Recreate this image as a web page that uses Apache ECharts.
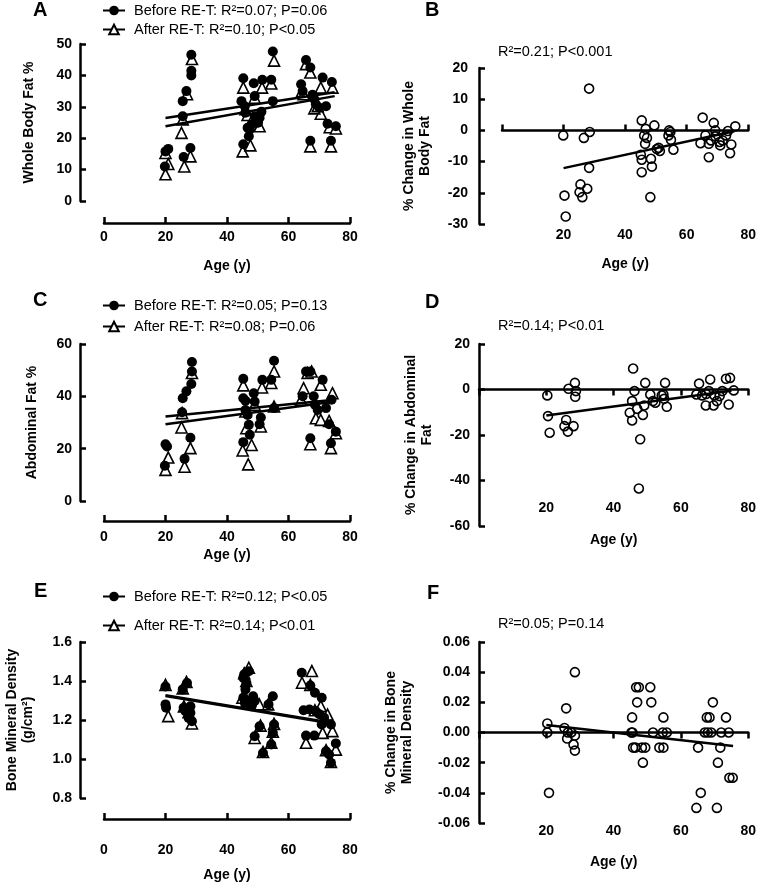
<!DOCTYPE html>
<html>
<head>
<meta charset="utf-8">
<script src="https://cdn.jsdelivr.net/npm/echarts@6/dist/echarts.min.js"></script>
<style>html,body{margin:0;padding:0;background:#fff}#c{width:759px;height:887px}</style>
</head>
<body>
<div id="c"></div>
<script>
// ---------- Data ----------
// Panel A: Whole body fat % (age, value)
const beforeA = [[20.0,15.8],[20.9,16.6],[19.8,11.0],[25.6,31.8],[25.6,27.0],[25.9,14.0],[26.8,35.0],[28.4,46.6],[28.4,41.5],[28.4,40.0],[28.1,16.9],
  [45.3,39.1],[44.7,31.8],[45.3,18.1],[45.8,30.2],[46.0,28.1],[46.7,23.3],[47.4,22.8],[47.1,20.6],[48.7,37.5],[49.0,33.4],[49.0,27.0],[50.6,26.5],[51.2,28.4],[51.5,38.6],[54.4,38.6],[54.9,47.6],[54.9,31.8],[50.1,24.9],[48.0,24.4],
  [65.7,44.9],[67.1,42.5],[64.1,37.2],[64.6,35.0],[67.8,33.8],[68.4,32.4],[68.9,30.8],[71.1,39.3],[72.2,30.2],[74.1,37.9],[72.7,24.6],[75.4,23.8],[67.1,19.2],[73.8,19.2],[70.0,29.7]];
const afterA = [[20.0,15.3],[20.9,11.8],[20.0,8.5],[25.6,26.0],[25.2,21.7],[26.1,11.0],[27.0,34.0],[28.6,45.2],[28.1,14.2],
  [45.3,36.1],[45.1,15.8],[47.6,17.7],[46.7,27.4],[46.0,29.2],[49.0,32.9],[50.6,23.8],[51.4,36.1],[54.4,37.4],[55.3,44.7],[48.0,25.4],
  [65.7,43.6],[67.1,40.9],[64.4,35.0],[70.5,36.1],[74.3,36.1],[70.5,27.8],[68.4,29.5],[73.4,23.5],[75.4,23.1],[67.1,17.4],[73.8,17.4],[69.5,30.2],[64.9,34.0]];
const fitBeforeA = [[20,26.4],[75,34.6]];
const fitAfterA = [[20,23.8],[75,33.4]];
const legendA = ['Before RE-T: R²=0.07; P=0.06', 'After RE-T: R²=0.10; P<0.05'];

// Panel B: % change in whole body fat
const changeB = [[19.9,-1.6],[20.3,-20.9],[20.7,-27.6],[25.5,-17.3],[25.2,-19.8],[26.1,-21.4],[26.6,-2.4],[27.7,-18.7],[28.3,13.4],[28.5,-0.5],[28.3,-12.0],
  [45.4,3.2],[45.1,-7.8],[45.4,-9.4],[45.4,-13.4],[46.7,0.5],[46.2,-1.6],[47.1,-2.4],[46.5,-4.3],[48.4,-9.1],[48.7,-11.6],[48.2,-21.4],[49.5,1.6],[50.9,-5.6],[51.3,-6.6],[50.3,-6.0],
  [54.3,0.0],[54.7,-0.5],[54.1,-1.6],[54.9,-3.0],[55.7,-6.2],
  [65.2,4.1],[64.5,-4.1],[66.1,-1.6],[67.2,-4.3],[67.2,-8.6],[68.8,2.4],[69.3,0.0],[69.3,-1.9],[67.9,-3.2],[70.7,-3.7],[70.9,-4.8],[71.7,-3.2],[72.8,-1.6],[73.4,-0.2],[74.5,-4.5],[74.1,-7.3],[75.8,1.3]];
const fitB = [[20,-12.1],[75.5,-0.3]];
const statB = 'R²=0.21; P<0.001';

// Panel C: Abdominal fat %
const beforeC = [[20.0,21.7],[20.5,20.8],[19.8,13.5],[25.4,33.9],[25.6,39.3],[26.8,41.9],[28.4,44.7],[28.6,53.1],[28.1,24.2],[26.2,16.1],[28.6,49.5],
  [45.3,46.7],[45.3,39.3],[46.0,38.3],[45.3,22.5],[46.0,34.8],[46.7,32.9],[47.1,29.1],[47.4,25.3],[48.7,41.2],[49.0,38.0],[51.0,31.9],[50.6,29.3],[51.5,46.3],[54.4,46.3],[55.3,53.6],[55.3,35.5],
  [65.7,49.5],[67.1,49.5],[64.6,40.0],[68.2,40.0],[68.6,36.8],[69.5,34.8],[71.1,46.3],[72.2,35.5],[74.0,38.7],[73.2,29.3],[75.4,26.5],[67.1,24.0],[73.8,22.1]];
const afterC = [[20.0,11.9],[20.9,16.6],[25.2,28.1],[26.2,13.1],[28.1,20.2],[28.6,48.9],[25.4,33.6],
  [45.3,44.2],[45.1,19.3],[48.0,21.4],[46.9,14.0],[46.3,27.8],[51.0,28.5],[51.4,43.4],[54.4,45.1],[55.3,49.5],[55.3,36.1],[49.0,36.8],[46.0,34.2],
  [64.9,43.1],[66.2,48.9],[67.5,49.5],[70.5,44.4],[74.3,41.2],[68.9,31.6],[70.5,31.0],[73.2,30.6],[75.4,25.9],[67.1,21.7],[73.8,20.2],[64.1,38.7]];
const fitBeforeC = [[20,32.3],[75,38.7]];
const fitAfterC = [[20,29.3],[75,38.0]];
const legendC = ['Before RE-T: R²=0.05; P=0.13', 'After RE-T: R²=0.08; P=0.06'];

// Panel D: % change in abdominal fat
const changeD = [[20.3,-2.6],[20.5,-11.7],[21.0,-19.0],[26.6,0.3],[28.5,2.9],[28.8,-0.7],[28.6,-3.2],[25.9,-13.4],[25.4,-16.1],[26.4,-18.5],[28.1,-16.1],
  [45.8,9.2],[46.2,-0.7],[45.5,-5.1],[44.8,-10.2],[45.5,-13.6],[47.0,-8.5],[48.7,-11.2],[49.1,-7.0],[47.9,-21.9],[47.5,-43.5],[49.4,2.9],[50.9,-2.2],[51.7,-5.1],[52.4,-5.8],[54.3,-2.6],[54.8,-2.2],[55.3,2.9],[55.8,-7.6],[55.0,-4.1],
  [65.4,2.6],[64.6,-2.2],[66.3,-2.6],[67.4,-7.0],[68.7,4.4],[68.3,-0.7],[70.0,-2.6],[69.7,-7.0],[70.7,-5.1],[71.5,-2.9],[72.3,-0.7],[73.4,4.7],[74.6,5.1],[74.2,-6.6],[75.7,-0.4],[67.5,-2.0]];
const fitD = [[20,-11.4],[75,-0.5]];
const statD = 'R²=0.14; P<0.01';

// Panel E: Bone mineral density (g/cm²)
const beforeE = [[20.0,1.372],[20.0,1.28],[20.2,1.263],[25.6,1.357],[27.0,1.39],[25.9,1.263],[26.5,1.245],[28.1,1.27],[28.1,1.237],[28.6,1.194],[27.5,1.211],
  [45.3,1.417],[45.6,1.434],[46.3,1.391],[46.0,1.357],[45.3,1.314],[46.9,1.297],[48.5,1.322],[49.0,1.297],[45.8,1.288],[47.4,1.28],[48.0,1.27],[49.0,1.117],[51.7,1.031],[54.4,1.074],[54.9,1.134],[55.3,1.177],[54.9,1.322],[53.5,1.28],[50.6,1.168],[47.1,1.45],
  [64.3,1.442],[67.1,1.377],[68.6,1.34],[70.8,1.314],[64.9,1.25],[66.8,1.254],[68.9,1.245],[65.7,1.12],[68.4,1.12],[70.8,1.177],[71.6,1.211],[73.8,1.177],[72.2,1.04],[73.2,1.023],[73.8,0.98],[75.4,1.08],[70.0,1.23]];
const afterE = [[20.0,1.38],[20.9,1.22],[25.6,1.362],[26.8,1.395],[27.5,1.24],[28.6,1.182],[26.0,1.27],
  [47.1,1.468],[45.0,1.314],[45.6,1.44],[46.3,1.40],[49.0,1.108],[50.9,1.171],[51.7,1.036],[50.5,1.28],[53.4,1.28],[54.4,1.083],[54.9,1.14],[55.3,1.18],[46.5,1.30],
  [64.4,1.391],[67.6,1.451],[65.7,1.083],[70.5,1.271],[71.1,1.134],[72.7,1.228],[74.3,1.143],[75.4,1.048],[73.8,0.985],[68.6,1.25],[67.1,1.38],[72.2,1.045]];
const fitBeforeE = [[20,1.327],[75,1.184]];
const fitAfterE = [[20,1.323],[75,1.180]];
const legendE = ['Before RE-T: R²=0.12; P<0.05', 'After RE-T: R²=0.14; P<0.01'];

// Panel F: % change in bone mineral density
const changeF = [[20.3,0.006],[20.3,0.0],[20.8,-0.04],[25.9,0.016],[25.4,0.003],[26.4,0.0],[26.2,-0.004],[28.5,0.04],[28.5,-0.002],[28.1,-0.008],[28.5,-0.012],[27.4,0.0],
  [45.5,0.01],[45.3,0.0],[45.6,0.0],[45.8,-0.01],[46.5,-0.01],[46.7,0.03],[47.5,0.03],[47.0,0.02],[48.4,-0.01],[49.4,-0.01],[48.7,-0.02],[50.9,0.03],[51.2,0.02],[51.7,0.0],[53.6,-0.01],[54.8,-0.01],[54.6,0.0],[55.8,0.0],[54.8,0.01],
  [65.1,-0.01],[65.9,-0.04],[64.6,-0.05],[67.1,0.0],[67.7,0.01],[68.5,0.01],[68.0,0.0],[69.5,0.02],[69.0,0.0],[70.7,-0.05],[71.0,-0.02],[71.7,-0.01],[72.0,0.0],[73.4,0.01],[74.2,0.0],[74.4,-0.03],[75.4,-0.03]];
const fitF = [[20,0.005],[75.5,-0.009]];
const statF = 'R²=0.05; P=0.14';

// Axis ticks / titles
const xTicks = { min: 0, max: 80, interval: 20 };
const panelLetters = ['A', 'B', 'C', 'D', 'E', 'F'];

// ---------- Styling helpers ----------
const FONT = '"Liberation Sans", Arial, sans-serif';
const LINE = { color: '#000', width: 2.5 };
const TICK = { lineStyle: { color: '#000', width: 2.5 }, length: 6 };
const tickFont = { color: '#000', fontFamily: FONT, fontSize: 14, fontWeight: 'bold' };
const nameFont = { color: '#000', fontFamily: FONT, fontSize: 14, fontWeight: 'bold', lineHeight: 16 };

function yAx(g, min, max, interval, name, gap, offset, dec, margin) {
  return {
    type: 'value', gridIndex: g, min, max, interval, offset,
    name, nameLocation: 'middle', nameGap: gap, nameTextStyle: nameFont,
    axisLine: { show: true, onZero: false, lineStyle: LINE },
    axisTick: Object.assign({ show: true, inside: true }, TICK),
    axisLabel: Object.assign({ margin: margin, formatter: v => (dec === null ? String(v) : v.toFixed(dec)) }, tickFont),
    splitLine: { show: false }
  };
}
function xOffsetAx(g, offset, margin, gap) {
  return {
    type: 'value', gridIndex: g, min: xTicks.min, max: xTicks.max, interval: xTicks.interval, offset,
    name: 'Age (y)', nameLocation: 'middle', nameGap: gap, nameTextStyle: nameFont,
    axisLine: { show: true, onZero: false, lineStyle: LINE },
    axisTick: Object.assign({ show: true, inside: true }, TICK),
    axisLabel: Object.assign({ margin }, tickFont),
    splitLine: { show: false }
  };
}
function xZeroAx(g, tickInside) {
  return {
    type: 'value', gridIndex: g, min: xTicks.min, max: xTicks.max, interval: xTicks.interval,
    axisLine: { show: true, onZero: true, lineStyle: LINE },
    axisTick: Object.assign({ show: true, inside: tickInside }, TICK),
    axisLabel: { show: false }, splitLine: { show: false }
  };
}
function xLabelAx(g, margin, inside, gap) {
  return {
    type: 'value', gridIndex: g, position: 'bottom', min: xTicks.min, max: xTicks.max, interval: xTicks.interval,
    name: 'Age (y)', nameLocation: 'middle', nameGap: gap, nameTextStyle: nameFont,
    axisLine: { show: false, onZero: false }, axisTick: { show: false },
    axisLabel: Object.assign({ margin, inside, showMinLabel: false }, tickFont),
    splitLine: { show: false }
  };
}
function filled(xi, yi, data) {
  return { type: 'scatter', xAxisIndex: xi, yAxisIndex: yi, data, symbol: 'circle', symbolSize: 10,
    itemStyle: { color: '#000', opacity: 1 }, z: 3, silent: true };
}
function tri(xi, yi, data) {
  return { type: 'scatter', xAxisIndex: xi, yAxisIndex: yi, data, symbol: 'triangle', symbolSize: 11,
    itemStyle: { color: '#fff', borderColor: '#000', borderWidth: 1.6, opacity: 1 }, z: 2, silent: true };
}
function hollow(xi, yi, data) {
  return { type: 'scatter', xAxisIndex: xi, yAxisIndex: yi, data, symbol: 'circle', symbolSize: 9,
    itemStyle: { color: 'rgba(0,0,0,0)', borderColor: '#000', borderWidth: 1.6, opacity: 1 }, z: 2, silent: true };
}
function fit(xi, yi, data, name, sym) {
  const s = { type: 'line', xAxisIndex: xi, yAxisIndex: yi, data, showSymbol: false, symbol: sym || 'none',
    lineStyle: { color: '#000', width: 2.5 }, z: 4, silent: true, animation: false };
  if (name) s.name = name;
  if (sym === 'triangle') s.itemStyle = { color: '#fff', borderColor: '#000', borderWidth: 1.6 };
  if (sym === 'circle') s.itemStyle = { color: '#000' };
  return s;
}
function legendAt(names, top, gap) {
  return { data: names, orient: 'vertical', left: 102, top, itemGap: gap, itemWidth: 22, itemHeight: 12,
    padding: 0, selectedMode: false,
    textStyle: { color: '#000', fontFamily: FONT, fontSize: 14.5, padding: [0, 0, 0, 4] } };
}
const letterStyle = { color: '#000', fontFamily: FONT, fontSize: 20, fontWeight: 'bold' };
const statStyle = { color: '#000', fontFamily: FONT, fontSize: 14.5, fontWeight: 'normal' };

const option = {
  animation: false,
  backgroundColor: '#fff',
  title: [
    { text: panelLetters[0], left: 33, top: 0, textStyle: letterStyle, padding: 0 },
    { text: panelLetters[1], left: 425, top: 0, textStyle: letterStyle, padding: 0 },
    { text: panelLetters[2], left: 33, top: 290, textStyle: letterStyle, padding: 0 },
    { text: panelLetters[3], left: 425, top: 292, textStyle: letterStyle, padding: 0 },
    { text: panelLetters[4], left: 34, top: 581, textStyle: letterStyle, padding: 0 },
    { text: panelLetters[5], left: 427, top: 583, textStyle: letterStyle, padding: 0 },
    { text: statB, left: 498, top: 44, textStyle: statStyle, padding: 0 },
    { text: statD, left: 498, top: 318, textStyle: statStyle, padding: 0 },
    { text: statF, left: 498, top: 616, textStyle: statStyle, padding: 0 }
  ],
  legend: [legendAt(legendA, 3, 4), legendAt(legendC, 298, 6), legendAt(legendE, 589, 14)],
  grid: [
    { left: 104, top: 44, width: 246, height: 157 },
    { left: 502, top: 68, width: 247, height: 156 },
    { left: 104, top: 344, width: 246, height: 157 },
    { left: 479, top: 344, width: 271, height: 182 },
    { left: 104, top: 642, width: 246, height: 156 },
    { left: 479, top: 642, width: 271, height: 181 }
  ],
  xAxis: [
    xOffsetAx(0, 22, 7, 35),
    xZeroAx(1, true), xLabelAx(1, 4, false, 32),
    xOffsetAx(2, 20, 9, 26),
    xZeroAx(3, false), xLabelAx(3, 11, true, 6),
    xOffsetAx(4, 21, 24, 48),
    xZeroAx(5, false), xLabelAx(5, 1, false, 31)
  ],
  yAxis: [
    yAx(0, 0, 50, 10, 'Whole Body Fat %', 43, 24, null, 8),
    yAx(1, -30, 20, 10, '% Change in Whole\nBody Fat', 46, 23, null, 11),
    yAx(2, 0, 60, 20, 'Abdominal Fat %', 40, 24, null, 8),
    yAx(3, -60, 20, 20, '% Change in Abdominal\nFat', 44, 0, null, 9),
    yAx(4, 0.8, 1.6, 0.2, 'Bone Mineral Density\n(g/cm²)', 44, 24, 1, 8),
    yAx(5, -0.06, 0.06, 0.02, '% Change in Bone\nMineral Density', 64, 0, 2, 9)
  ],
  series: [
    tri(0, 0, afterA), filled(0, 0, beforeA),
    fit(0, 0, fitBeforeA, legendA[0], 'circle'), fit(0, 0, fitAfterA, legendA[1], 'triangle'),
    hollow(1, 1, changeB), fit(1, 1, fitB),
    tri(3, 2, afterC), filled(3, 2, beforeC),
    fit(3, 2, fitBeforeC, legendC[0], 'circle'), fit(3, 2, fitAfterC, legendC[1], 'triangle'),
    hollow(4, 3, changeD), fit(4, 3, fitD),
    tri(6, 4, afterE), filled(6, 4, beforeE),
    fit(6, 4, fitBeforeE, legendE[0], 'circle'), fit(6, 4, fitAfterE, legendE[1], 'triangle'),
    hollow(7, 5, changeF), fit(7, 5, fitF)
  ]
};
const chart = echarts.init(document.getElementById('c'), null, { renderer: 'canvas' });
chart.setOption(option);
</script>
</body>
</html>
